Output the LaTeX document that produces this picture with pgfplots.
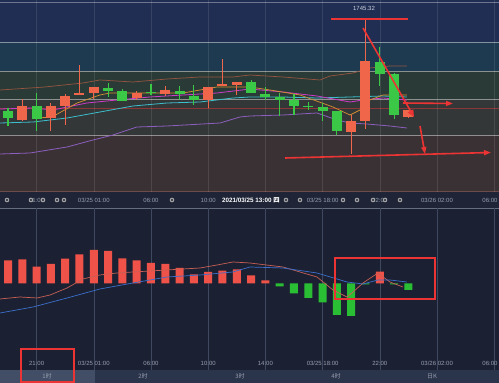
\documentclass[border=0pt]{standalone}
\usepackage{pgfplots}
\pgfplotsset{compat=1.18}
\usepackage{pgfplotstable}
\usepackage{fontspec}
\setmainfont{Liberation Sans}
\newfontfamily\cjk{Noto Sans CJK SC}
\usetikzlibrary{arrows.meta}

\definecolor{bgdark}{RGB}{27,33,50}
\definecolor{datebar}{RGB}{31,37,54}
\definecolor{tabc}{RGB}{42,52,74}
\definecolor{tabsel}{RGB}{66,78,102}
\definecolor{band1}{RGB}{33,46,84}
\definecolor{band2}{RGB}{29,58,80}
\definecolor{band3}{RGB}{42,58,54}
\definecolor{band4}{RGB}{52,55,56}
\definecolor{band5}{RGB}{58,49,52}
\definecolor{candR}{RGB}{240,102,74}
\definecolor{candG}{RGB}{58,200,70}
\definecolor{macdR}{RGB}{238,82,72}
\definecolor{macdG}{RGB}{42,190,52}
\definecolor{annot}{RGB}{236,52,52}
\definecolor{gridc}{RGB}{62,72,96}
\definecolor{lblc}{RGB}{150,158,175}
\definecolor{maBrown}{RGB}{150,85,65}
\definecolor{maPurple}{RGB}{140,95,190}
\definecolor{maMag}{RGB}{205,60,200}
\definecolor{maCyan}{RGB}{60,190,205}
\definecolor{maOrange}{RGB}{215,145,50}
\definecolor{difc}{RGB}{200,95,85}
\definecolor{deac}{RGB}{60,110,205}
\definecolor{sepline}{RGB}{110,75,75}
\definecolor{levline}{RGB}{140,55,55}
\definecolor{toplbl}{RGB}{205,210,220}

% candle bodies (open/close) and wicks (low/high), one segment per candle
\pgfplotstableread{
x y
1 1725.12
1 1727.92
nan nan
3 1725.52
3 1727.92
nan nan
4 1727.92
4 1729.92
nan nan
5 1730.12
5 1730.52
nan nan
6 1730.52
6 1731.72
nan nan
9 1729.52
9 1730.52
nan nan
11 1730.32
11 1731.12
nan nan
14 1729.12
14 1731.72
nan nan
15 1731.92
15 1732.32
nan nan
16 1732.12
16 1732.72
nan nan
24 1722.72
24 1724.92
nan nan
25 1724.92
25 1736.92
nan nan
28 1725.72
28 1727.12
}\redbodies

\pgfplotstableread{
x y
1 1724.92
1 1729.32
nan nan
3 1722.92
3 1728.52
nan nan
4 1724.12
4 1730.32
nan nan
5 1730.12
5 1736.12
nan nan
6 1729.32
6 1731.72
nan nan
9 1729.12
9 1730.92
nan nan
11 1729.92
11 1731.92
nan nan
14 1727.52
14 1731.72
nan nan
15 1731.92
15 1737.32
nan nan
16 1730.12
16 1732.72
nan nan
24 1718.32
24 1726.12
nan nan
25 1723.32
25 1745.32
nan nan
28 1725.52
28 1727.12
}\redwicks

\pgfplotstableread{
x y
0 1725.52
0 1726.92
nan nan
2 1725.32
2 1727.92
nan nan
7 1730.92
7 1731.52
nan nan
8 1728.92
8 1730.92
nan nan
10 1730.52
10 1730.72
nan nan
12 1730.32
12 1730.92
nan nan
13 1729.12
13 1729.92
nan nan
17 1730.52
17 1732.72
nan nan
18 1729.72
18 1730.32
nan nan
19 1729.12
19 1729.72
nan nan
20 1727.92
20 1729.12
nan nan
21 1727.72
21 1727.92
nan nan
22 1726.92
22 1727.72
nan nan
23 1722.92
23 1726.92
nan nan
26 1734.32
26 1736.72
nan nan
27 1726.12
27 1734.32
}\greenbodies

\pgfplotstableread{
x y
0 1723.92
0 1727.52
nan nan
2 1722.92
2 1730.52
nan nan
7 1729.72
7 1732.52
nan nan
8 1728.92
8 1731.32
nan nan
10 1730.12
10 1732.32
nan nan
12 1729.12
12 1731.92
nan nan
13 1728.12
13 1732.12
nan nan
17 1730.52
17 1733.12
nan nan
18 1729.12
18 1731.72
nan nan
19 1725.92
19 1730.52
nan nan
20 1726.12
20 1730.32
nan nan
21 1727.12
21 1728.72
nan nan
22 1724.92
22 1728.52
nan nan
23 1722.12
23 1726.92
nan nan
26 1731.92
26 1739.72
nan nan
27 1725.32
27 1734.52
}\greenwicks

\begin{document}
\begin{tikzpicture}
\useasboundingbox (0pt,0pt) rectangle (499pt,383pt);
\clip (0pt,0pt) rectangle (499pt,383pt);
\begin{scope}[x=1pt,y=1pt]
% backgrounds
\fill[bgdark] (0,0) rectangle (499,383);
\fill[tabc] (0,0) rectangle (499,13);
\fill[tabsel] (0,0) rectangle (95,13);
\fill[datebar] (0,175) rectangle (499,191);
\draw[gridc!80!white, line width=0.4] (0,175) -- (499,175);
% top bands
\fill[band1] (0,341) rectangle (499,383);
\fill[band2] (0,312) rectangle (499,341);
\fill[band3] (0,284) rectangle (499,312);
\fill[band4] (0,248) rectangle (499,284);
\fill[band5] (0,191) rectangle (499,248);
\foreach \yy in {341,312,284,248} \draw[white, opacity=0.45, line width=0.6] (0,\yy) -- (499,\yy);
\draw[white, opacity=0.35, line width=0.6] (0,381) -- (499,381);
\draw[sepline, line width=0.8] (0,191.5) -- (499,191.5);
\draw[levline, line width=0.6] (0,275) -- (499,275);
% vertical grid
\foreach \xx in {36.6,93.8,151,208.2,265.4,322.6,379.8,437,494.2} {
  \draw[white, opacity=0.10, line width=0.5] (\xx,191) -- (\xx,383);
  \draw[gridc, line width=0.5] (\xx,13) -- (\xx,175);
}
\end{scope}

% ---------- top panel ----------
\begin{axis}[at={(0pt,191pt)}, anchor=south west, width=499pt, height=192pt,
  scale only axis, hide axis, xmin=-0.56, xmax=34.34, ymin=1710.72, ymax=1749.12,
  unbounded coords=jump]
\addplot[maBrown, line width=0.7] coordinates {(-0.56,1731.12) (2.5,1731.7) (5.24,1732.52) (6.43,1733.12) (8.74,1732.72) (11.12,1733.32) (13.43,1733.72) (15.73,1733.72) (16.92,1734.12) (19.23,1733.72) (21.82,1733.12) (22.52,1733.92) (24.13,1734.52) (25.31,1735.52) (26.71,1735.92) (27.9,1735.92)};
\addplot[maPurple, line width=0.8] coordinates {(-0.56,1718.32) (1.54,1718.52) (4.13,1719.72) (5.94,1721.12) (7.34,1722.12) (9.02,1723.72) (11.12,1723.92) (14.83,1724.52) (16.22,1725.72) (16.92,1725.92) (19.23,1726.12) (21.61,1726.52) (23.01,1725.12) (23.92,1724.52) (25.10,1724.32) (26.71,1723.92) (27.9,1723.52)};
\addplot[maCyan, line width=0.8] coordinates {(-0.56,1724.52) (1.75,1724.72) (4.13,1725.52) (6.43,1726.72) (8.74,1727.92) (11.12,1728.52) (13.43,1728.72) (15.73,1729.52) (16.92,1729.72) (19.23,1729.72) (21.61,1729.52) (23.92,1729.72) (26.22,1729.92) (27.9,1729.72)};
\addplot[maMag, line width=0.8] coordinates {(-0.56,1727.32) (1.75,1727.52) (3.15,1727.12) (4.13,1727.72) (5.52,1728.52) (7.62,1729.12) (9.93,1729.72) (12.24,1730.12) (14.62,1730.52) (16.92,1731.32) (19.23,1730.72) (21.61,1729.92) (23.92,1728.72) (24.83,1729.12) (26.22,1729.52) (27.9,1729.12)};
\addplot[maOrange, line width=0.7] coordinates {(2.03,1725.52) (3.08,1725.72) (4.83,1728.52) (6.43,1730.12) (7.13,1730.52) (9.93,1730.52) (12.24,1730.52) (14.62,1731.72) (16.92,1731.72) (18.32,1731.12) (20.42,1730.12) (22.73,1727.72) (23.92,1726.12) (24.62,1727.12) (25.31,1729.12) (26.22,1730.12) (27.9,1730.12)};
% wicks
\addplot[candR, line width=1.1pt, mark=none] table[x=x, y=y] {\redwicks};
\addplot[candG, line width=1.1pt, mark=none] table[x=x, y=y] {\greenwicks};
% bodies
\addplot[candR, line width=10pt, line cap=butt, mark=none] table[x=x, y=y] {\redbodies};
\addplot[candG, line width=10pt, line cap=butt, mark=none] table[x=x, y=y] {\greenbodies};
\end{axis}

% ---------- bottom panel ----------
\begin{axis}[at={(0pt,13pt)}, anchor=south west, width=499pt, height=162pt,
  scale only axis, hide axis, xmin=-0.56, xmax=34.34, ymin=-8.65, ymax=7.55]
\addplot[ybar, bar width=8pt, bar shift=0pt, fill=macdR, draw=none] coordinates {
(0,2.32) (1,2.42) (2,1.68) (3,1.95) (4,2.48) (5,2.92) (6,3.35) (7,3.25) (8,2.52) (9,2.32)
(10,2.05) (11,1.95) (12,1.55) (13,0.92) (14,1.15) (15,1.28) (16,1.42) (17,0.80) (18,0.32) (26,1.18)};
\addplot[ybar, bar width=8pt, bar shift=0pt, fill=macdG, draw=none] coordinates {
(19,-0.30) (20,-1.00) (21,-1.45) (22,-1.90) (23,-3.15) (24,-3.25) (25,-0.10) (27,-0.10) (28,-0.65)};
\addplot[difc, line width=0.7] coordinates {(-0.56,-1.55) (0.84,-1.35) (2.03,-1.45) (2.94,-1.15) (4.13,-0.45) (5.24,0.45) (6.43,0.85) (7.62,1.05) (8.74,1.15) (9.93,1.25) (11.12,1.35) (12.24,1.45) (13.43,1.55) (14.62,1.85) (15.73,2.15) (16.92,2.05) (19.23,1.65) (21.61,0.65) (22.73,-0.65) (23.71,-1.35) (24.13,-0.85) (24.83,0.05) (25.87,1.05) (26.71,0.15) (27.62,-0.35)};
\addplot[deac, line width=0.7] coordinates {(-0.56,-2.95) (1.75,-2.35) (4.13,-1.45) (6.43,-0.55) (8.74,0.05) (11.12,0.65) (13.43,0.85) (15.73,1.15) (16.92,1.65) (19.23,1.55) (21.61,1.05) (23.71,0.15) (24.83,-0.05) (25.87,0.35) (26.71,0.35) (27.9,0.15)};
\end{axis}

\begin{scope}[x=1pt,y=1pt]
% ---------- labels ----------
\begin{scope}[font=\fontsize{6}{7}\selectfont, text=lblc]
\node at (36.6,183) {21:00};
\node at (93.8,183) {03/25 01:00};
\node at (151,183) {06:00};
\node at (208.2,183) {10:00};
\node at (322.6,183) {03/25 18:00};
\node at (379.8,183) {22:00};
\node at (437,183) {03/26 02:00};
\node at (490,183) {06:00};
\node at (36.6,20) {21:00};
\node at (93.8,20) {03/25 01:00};
\node at (151,20) {06:00};
\node at (208.2,20) {10:00};
\node at (265.4,20) {14:00};
\node at (322.6,20) {03/25 18:00};
\node at (379.8,20) {22:00};
\node at (437,20) {03/26 02:00};
\node at (490,20) {06:00};
\node at (47,6.5) {\cjk 1时};
\node at (143,6.5) {\cjk 2时};
\node at (240,6.5) {\cjk 3时};
\node at (336,6.5) {\cjk 4时};
\node at (432,6.5) {\cjk 日K};
\end{scope}
\foreach \cx in {7,31,43,57,64,172,286,300,343,357,373,385,400} {
  \fill[gray!70] (\cx,183) circle (2.3);
  \fill[datebar] (\cx,183) circle (1.1);
}
\fill[datebar] (220,177) rectangle (280,189);
\node[anchor=west, inner sep=0pt, text=white, font=\fontsize{6.3}{7}\selectfont\bfseries] at (222,183) {2021/03/25 13:00 {\cjk 四}};
\node[text=toplbl, font=\fontsize{6}{7}\selectfont] at (364,375) {1745.32};

% ---------- annotations ----------
\draw[annot, line width=1.4] (331,364) -- (408,364);
\draw[annot, line width=1.6, -{Triangle[length=7pt,width=6pt]}] (363,355) -- (414,266);
\draw[annot, line width=1.6, -{Triangle[length=7pt,width=5pt]}] (403,280) -- (453,279.5);
\draw[annot, line width=1.6, -{Triangle[length=7pt,width=5pt]}] (420,257) -- (425,229);
\draw[annot, line width=1.6, -{Triangle[length=7pt,width=5pt]}] (285,225) -- (491,230.5);
\draw[annot, line width=1.2] (335,84) rectangle (435,125);
\draw[annot, line width=1.2] (21,1) rectangle (74,34);
\end{scope}
\end{tikzpicture}
\end{document}
